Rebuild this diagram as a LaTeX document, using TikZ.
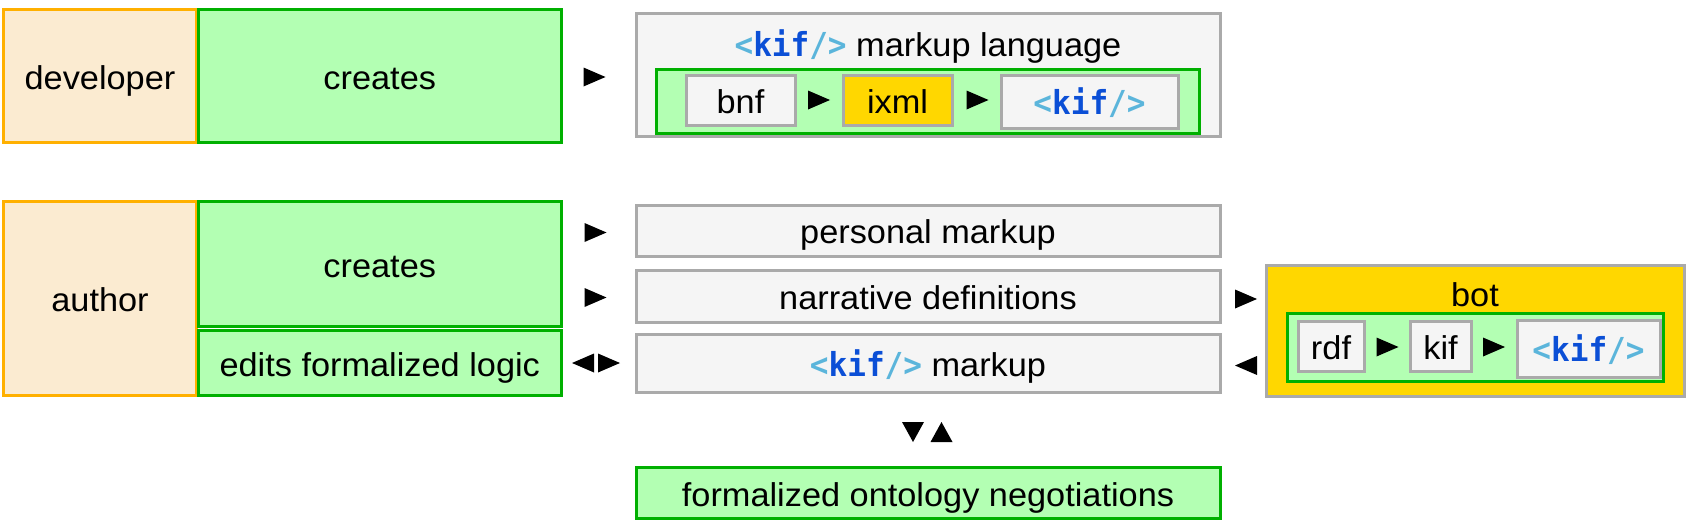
\documentclass[tikz,border=0pt]{standalone}
\usepackage{fontspec}
\setmainfont[FakeStretch=1.04]{Liberation Sans}
\newfontfamily\kifmono[FakeStretch=0.94]{DejaVu Sans Mono}
\definecolor{personfill}{HTML}{FBEBD1}
\definecolor{orangeb}{HTML}{FFB000}
\definecolor{greenfill}{HTML}{B3FFB3}
\definecolor{greenb}{HTML}{00B000}
\definecolor{grayfill}{HTML}{F5F5F5}
\definecolor{grayb}{HTML}{AAAAAA}
\definecolor{goldfill}{HTML}{FFD700}
\definecolor{kifblue}{HTML}{0B4FD6}
\definecolor{kiflight}{HTML}{5BB5DB}
\newcommand\kiftag{{\kifmono\bfseries\fontsize{33}{34}\selectfont\textcolor{kiflight}{<}\textcolor{kifblue}{kif}\textcolor{kiflight}{/>}}}
\begin{document}
\begin{tikzpicture}[x=1pt,y=-1pt,
  base/.style={rectangle, inner sep=0pt, line width=3pt,
    font=\fontsize{33}{38}\selectfont, text height=32.5pt, text depth=6pt},
  personbox/.style={base, draw=orangeb, fill=personfill},
  greenbox/.style={base, draw=greenb, fill=greenfill},
  graybox/.style={base, draw=grayb, fill=grayfill},
  goldbox/.style={base, draw=grayb, fill=goldfill},
  label/.style={inner sep=0pt, font=\fontsize{33}{38}\selectfont, text height=32.5pt, text depth=6pt},
  sz/.style 2 args={minimum width=#1pt, minimum height=#2pt},
  rtri/.pic={\fill[black] (-11,-9.5) -- (11,0) -- (-11,9.5) -- cycle;},
  ltri/.pic={\fill[black] (11,-9.5) -- (-11,0) -- (11,9.5) -- cycle;},
  dtri/.pic={\fill[black] (-11,-10) -- (11,-10) -- (0,10) -- cycle;},
  utri/.pic={\fill[black] (-11,10) -- (11,10) -- (0,-10) -- cycle;}
]
\useasboundingbox (0,0) rectangle (1696,530);

% developer row
\node[personbox, sz={193}{133.5}] (dev) at (100,75.75) {developer};
\node[greenbox, sz={362.5}{133.5}] (cre1) at (379.75,75.75) {creates};
\pic (a1) at (594.5,77) {rtri};
\node[graybox, sz={584}{122.5}] (mlang) at (928,74.75) {};
\node[label] (mlangt) at (928,43) {\kiftag\ markup language};
\node[greenbox, sz={543}{64.5}] (mlin) at (927.5,101.25) {};
\node[graybox, sz={109}{50}] (bnf) at (740.5,100) {bnf};
\pic (a2) at (819,100) {rtri};
\node[goldbox, sz={109}{50}] (ixml) at (897.5,100) {ixml};
\pic (a3) at (977.5,100) {rtri};
\node[graybox, sz={177}{53}] (kif1) at (1089.5,101.5) {\kiftag};

% author rows
\node[personbox, sz={193}{194}] (author) at (100,298.5) {author};
\node[greenbox, sz={362.5}{125}] (cre2) at (379.75,264) {creates};
\node[greenbox, sz={362.5}{65.5}] (edits) at (379.75,362.75) {edits formalized logic};
\pic (a4) at (595.5,232.5) {rtri};
\pic (a5) at (595.5,297.5) {rtri};
\pic (a6) at (583,363) {ltri};
\pic (a7) at (609,363) {rtri};
\node[graybox, sz={584}{51}] (personal) at (928,230.5) {personal markup};
\node[graybox, sz={584}{52}] (narr) at (928,296) {narrative definitions};
\node[graybox, sz={584}{58}] (kifm) at (928,363) {\kiftag\ markup};

% bot
\pic (a8) at (1246,299) {rtri};
\pic (a9) at (1246,365.5) {ltri};
\node[goldbox, sz={418}{131}] (bot) at (1475,330.5) {};
\node[label] (bott) at (1475,293) {bot};
\node[greenbox, sz={376}{68}] (botin) at (1475,347) {};
\node[graybox, sz={66}{50}] (rdf) at (1331,346) {rdf};
\pic (a10) at (1387.5,347) {rtri};
\node[graybox, sz={61}{50}] (kifn) at (1440.5,346) {kif};
\pic (a11) at (1494,347) {rtri};
\node[graybox, sz={143}{57}] (kif2) at (1588.5,348.5) {\kiftag};

% negotiations
\pic (a12) at (913,432) {dtri};
\pic (a13) at (941.5,432) {utri};
\node[greenbox, sz={584}{51}] (formal) at (928,493) {formalized ontology negotiations};
\end{tikzpicture}
\end{document}
